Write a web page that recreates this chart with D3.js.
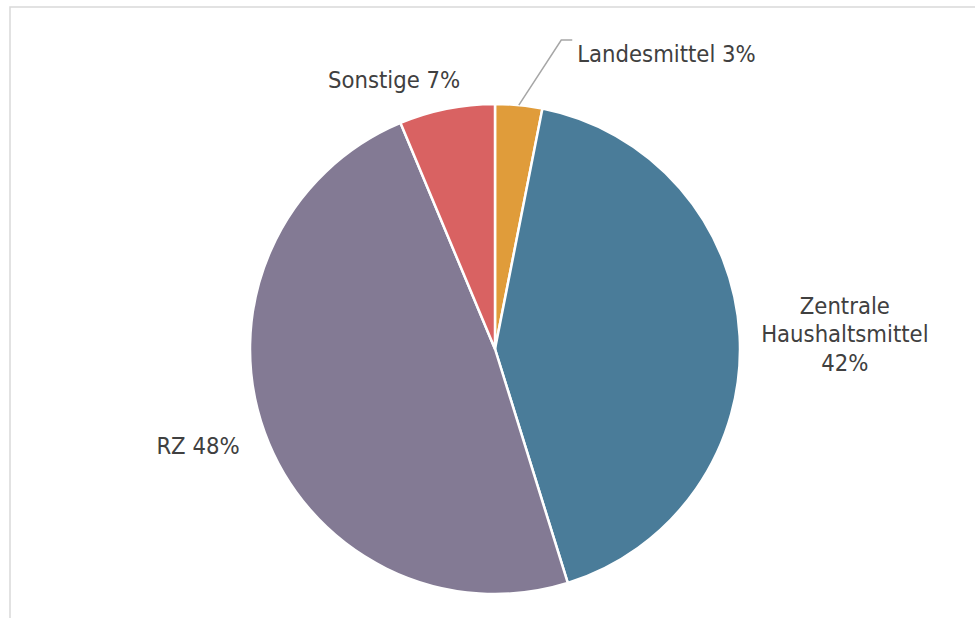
<!DOCTYPE html>
<html>
<head>
<meta charset="utf-8">
<script src="https://cdn.jsdelivr.net/npm/d3@7"></script>
<style>
  body { margin: 0; background: #fff; }
  svg { display: block; }
  text { font-family: "DejaVu Sans Condensed", "DejaVu Sans", sans-serif; font-stretch: condensed; fill: #404040; }
</style>
</head>
<body>
<script>
// slices, clockwise from 12 o'clock
const categories = ["Landesmittel", "Zentrale Haushaltsmittel", "RZ", "Sonstige"];
const shares = [3.1, 42.1, 48.5, 6.3];
const shareLabels = ["3%", "42%", "48%", "7%"];
const colors = ["#E09C3A", "#4A7C99", "#837A94", "#D96262"];

const width = 975, height = 618;
const cx = 495, cy = 349, R = 245;

const svg = d3.select("body").append("svg")
  .attr("width", width)
  .attr("height", height);

// chart frame
svg.append("rect")
  .attr("x", 10).attr("y", 7)
  .attr("width", 1000).attr("height", 1000)
  .attr("fill", "none")
  .attr("stroke", "#D9D9D9")
  .attr("stroke-width", 1.5);

const pie = d3.pie().sort(null).value(d => d);
const arcs = pie(shares);
const arc = d3.arc().innerRadius(0).outerRadius(R);

const g = svg.append("g").attr("transform", `translate(${cx},${cy})`);

g.selectAll("path")
  .data(arcs)
  .enter()
  .append("path")
  .attr("d", arc)
  .attr("fill", (d, i) => colors[i])
  .attr("stroke", "#fff")
  .attr("stroke-width", 2.5)
  .attr("stroke-linejoin", "round");

// point on a ray from the centre at the slice's mid angle
function ray(d, k) {
  const a = (d.startAngle + d.endAngle) / 2;
  return [Math.sin(a) * R * k, -Math.cos(a) * R * k];
}

// label placement: radius factor along mid angle + nudge
const labelLayout = [
  { k: 1.27, dx: 0, dy: 0 },
  { k: 1.43, dx: 0, dy: 4 },
  { k: 1.29, dx: 0, dy: -11 },
  { k: 1.118, dx: -47, dy: 0 }
];
const labelLines = [
  [categories[0] + " " + shareLabels[0]],
  ["Zentrale", "Haushaltsmittel", shareLabels[1]],
  [categories[2] + " " + shareLabels[2]],
  [categories[3] + " " + shareLabels[3]]
];

// leader for the small slice
const lead0 = ray(arcs[0], 1.0);
const lead1 = ray(arcs[0], 1.27);
g.append("polyline")
  .attr("points", [lead0, [lead1[0] + 36, -309], [lead1[0] + 47, -309]].map(p => p.join(",")).join(" "))
  .attr("fill", "none")
  .attr("stroke", "#A6A6A6")
  .attr("stroke-width", 1.5);

arcs.forEach((d, i) => {
  const L = labelLayout[i];
  const lines = labelLines[i];
  let x, y, anchor;
  if (i === 0) {
    x = lead1[0] + 52;
    y = -295;
    anchor = "start";
  } else {
    const p = ray(d, L.k);
    x = p[0] + L.dx;
    y = p[1] + L.dy;
    anchor = "middle";
  }
  const lh = 28.5;
  const t = g.append("text")
    .attr("text-anchor", anchor)
    .style("font-size", "23.6px");
  lines.forEach((s, j) => {
    t.append("tspan")
      .attr("x", x)
      .attr("y", y + (j - (lines.length - 1) / 2) * lh + 8)
      .text(s);
  });
});
</script>
</body>
</html>
